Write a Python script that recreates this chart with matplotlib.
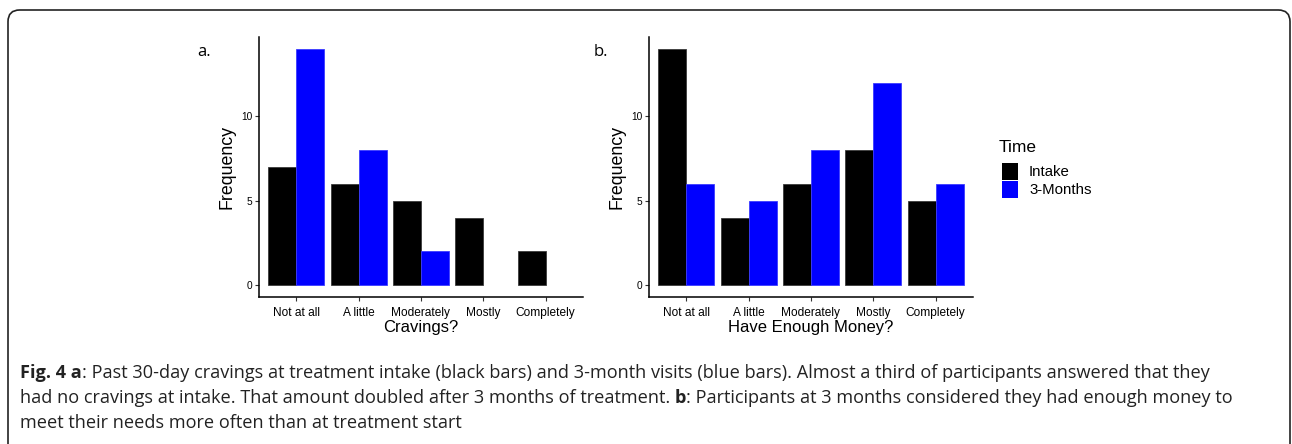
"""Fig. 4: cravings and money sufficiency at intake vs 3 months (two bar panels + caption)."""

import numpy as np
import matplotlib.pyplot as plt
from matplotlib.patches import FancyBboxPatch, Rectangle

W, H = 1292, 444

categories = ["Not at all", "A little", "Moderately", "Mostly", "Completely"]
series_names = ["Intake", "3-Months"]
series_colors = ["#000000", "#0000ff"]

cravings_intake = [7, 6, 5, 4, 2]
cravings_3m = [14, 8, 2, 0, 0]
money_intake = [14, 4, 6, 8, 5]
money_3m = [6, 5, 8, 12, 6]

yticks = [0, 5, 10]

caption_lines = [
    [("Fig. 4 a", True), (": Past 30-day cravings at treatment intake (black bars) and 3-month visits "
                          "(blue bars). Almost a third of participants answered that they", False)],
    [("had no cravings at intake. That amount doubled after 3 months of treatment. ", False),
     ("b", True), (": Participants at 3 months considered they had enough money to", False)],
    [("meet their needs more often than at treatment start", False)],
]

TICK_FONT = "Liberation Sans"
CAP_FONT = "Open Sans"


def px_axes(fig, left, top, right, bottom):
    return fig.add_axes([left / W, 1 - bottom / H, (right - left) / W, (bottom - top) / H])


def bar_panel(ax, intake, three, xlabel):
    x = np.arange(1, len(categories) + 1)
    w = 0.45
    for vals, off, col, edge in [(intake, -w / 2, series_colors[0], "#3a3a3a"),
                                 (three, w / 2, series_colors[1], "#3c3cff")]:
        vals = np.array(vals, dtype=float)
        keep = vals > 0
        ax.bar(x[keep] + off, vals[keep], width=w, color=col, edgecolor=edge, linewidth=0.6)
    ax.set_xlim(0.4, 5.6)
    ax.set_ylim(-0.7, 14.7)
    ax.set_xticks(x)
    ax.set_xticklabels(categories, fontsize=8.6, family=TICK_FONT)
    ax.set_yticks(yticks)
    ax.set_yticklabels([str(t) for t in yticks], fontsize=7.3, family=TICK_FONT)
    for s in ("top", "right"):
        ax.spines[s].set_visible(False)
    for s in ("left", "bottom"):
        ax.spines[s].set_linewidth(1.1)
    ax.tick_params(length=3, width=0.8, color="#333333", pad=2)
    ax.tick_params(axis="x", pad=4)
    ax.set_xlabel(xlabel, fontsize=12, family=TICK_FONT, labelpad=1)
    ax.set_ylabel("Frequency", fontsize=12.8, family=TICK_FONT, labelpad=4)


fig = plt.figure(figsize=(W / 100, H / 100), dpi=100)

# rounded frame around the whole figure
frame = FancyBboxPatch((8 / W, -0.1), (W - 10) / W, 1.1 - 10 / H,
                       boxstyle="round,pad=0,rounding_size=0.009",
                       transform=fig.transFigure, fill=False, edgecolor="#222222",
                       linewidth=1.2, mutation_aspect=W / H)
fig.add_artist(frame)

ax_a = px_axes(fig, 259, 37, 583, 297)
bar_panel(ax_a, cravings_intake, cravings_3m, "Cravings?")
ax_b = px_axes(fig, 649, 37, 973, 297)
bar_panel(ax_b, money_intake, money_3m, "Have Enough Money?")

fig.text(197 / W, 1 - 52 / H, "a.", fontsize=12, family=CAP_FONT, va="center")
fig.text(594 / W, 1 - 52 / H, "b.", fontsize=12, family=CAP_FONT, va="center")

# legend
fig.text(999 / W, 1 - 147 / H, "Time", fontsize=12.5, family=TICK_FONT, va="center")
for i, (name, col) in enumerate(zip(series_names, series_colors)):
    top = 163 + i * 17.5
    fig.add_artist(Rectangle((1002 / W, 1 - (top + 17) / H), 16 / W, 17 / H,
                             transform=fig.transFigure, facecolor=col, edgecolor="none"))
    fig.text(1029 / W, 1 - (top + 9) / H, name, fontsize=10.8, family=TICK_FONT, va="center")

# caption with bold runs
renderer = fig.canvas.get_renderer()
for li, runs in enumerate(caption_lines):
    x = 20
    y = 373 + li * 25
    for txt, bold in runs:
        t = fig.text(x / W, 1 - y / H, txt, fontsize=13.1, family=CAP_FONT,
                     weight="bold" if bold else "normal", va="center", color="#222222")
        x += t.get_window_extent(renderer).width

fig.savefig("out.png", dpi=100)
